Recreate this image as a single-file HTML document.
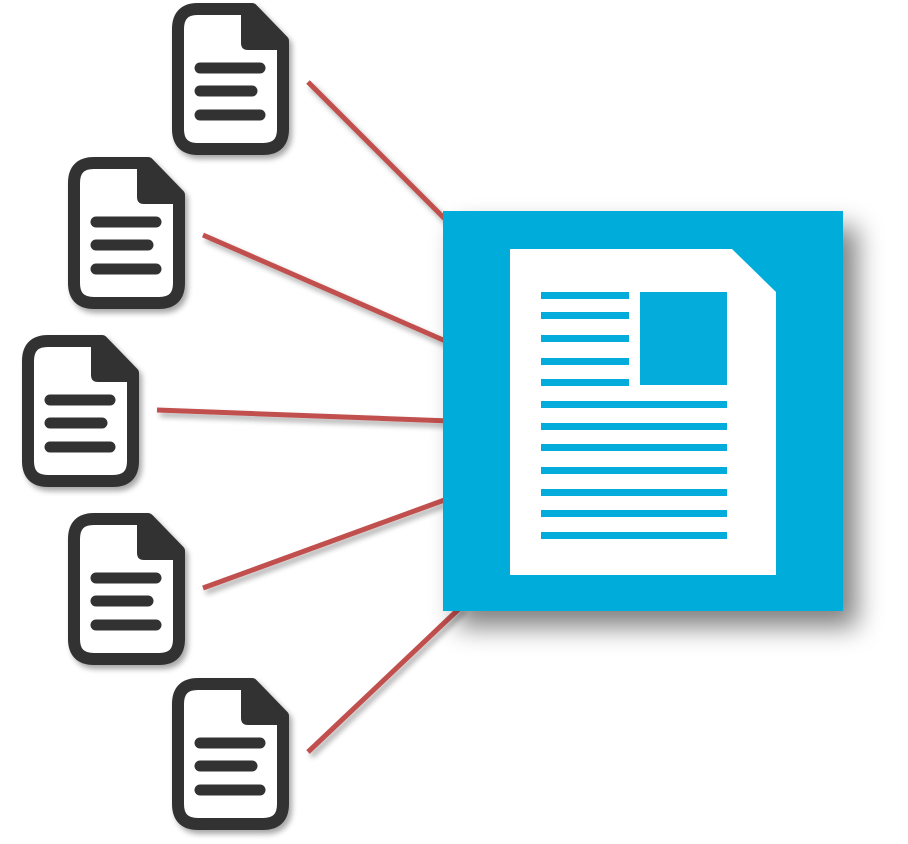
<!DOCTYPE html>
<html><head><meta charset="utf-8"><style>
html,body{margin:0;padding:0;background:#fff;width:908px;height:844px;overflow:hidden}
</style></head><body>
<svg width="908" height="844" viewBox="0 0 908 844" xmlns="http://www.w3.org/2000/svg">
<defs>
<filter id="sh" x="-20%" y="-20%" width="150%" height="150%">
<feGaussianBlur in="SourceAlpha" stdDeviation="3"/><feOffset dx="3" dy="4"/>
<feComponentTransfer><feFuncA type="linear" slope="0.35"/></feComponentTransfer>
<feMerge><feMergeNode/><feMergeNode in="SourceGraphic"/></feMerge></filter>
<filter id="bsh" x="-20%" y="-20%" width="150%" height="150%">
<feGaussianBlur in="SourceAlpha" stdDeviation="13"/><feOffset dx="14" dy="16"/>
<feComponentTransfer><feFuncA type="linear" slope="0.5"/></feComponentTransfer>
<feMerge><feMergeNode/><feMergeNode in="SourceGraphic"/></feMerge></filter>
<g id="doc">
<path d="M6,26 Q6,6 26,6 L80,6 L111,38 L111,126 Q111,146 91,146 L26,146 Q6,146 6,126 Z" fill="#fff" stroke="#333" stroke-width="12" stroke-linejoin="round"/>
<path d="M69,6 L69,40 Q69,47 76,47 L111,47 L111,38 L80,6 Z" fill="#333"/>
<g stroke="#333" stroke-width="11" stroke-linecap="round">
<line x1="28" y1="65" x2="88" y2="65"/><line x1="28" y1="88" x2="80" y2="88"/><line x1="28" y1="112" x2="88" y2="112"/>
</g>
</g>
</defs>
<g stroke="#c0504d" stroke-width="5" filter="url(#sh)">
<line x1="308" y1="82" x2="450" y2="224"/>
<line x1="203" y1="235" x2="450" y2="343"/>
<line x1="157" y1="410" x2="450" y2="421"/>
<line x1="203" y1="588" x2="450" y2="498"/>
<line x1="308" y1="752" x2="462" y2="606"/>
</g>
<g filter="url(#sh)">
<use href="#doc" x="172" y="3"/>
<use href="#doc" x="68" y="157"/>
<use href="#doc" x="22" y="335"/>
<use href="#doc" x="68" y="513"/>
<use href="#doc" x="172" y="678"/>
</g>
<g filter="url(#bsh)"><rect x="443" y="211" width="400" height="400" fill="#03acda"/></g>
<path d="M510,249 L732,249 L776,292 L776,575 L510,575 Z" fill="#fff"/>
<rect x="640" y="292" width="87" height="93" fill="#03acda"/>
<g fill="#03acda">
<rect x="541" y="292" width="88" height="7"/><rect x="541" y="312" width="88" height="7"/>
<rect x="541" y="335" width="88" height="7"/><rect x="541" y="358" width="88" height="7"/>
<rect x="541" y="379" width="88" height="7"/>
<rect x="541" y="401" width="186" height="7"/><rect x="541" y="423" width="186" height="7"/>
<rect x="541" y="444" width="186" height="7"/><rect x="541" y="467" width="186" height="7"/>
<rect x="541" y="489" width="186" height="7"/><rect x="541" y="510" width="186" height="7"/>
<rect x="541" y="532" width="186" height="7"/>
</g>
</svg>
</body></html>
